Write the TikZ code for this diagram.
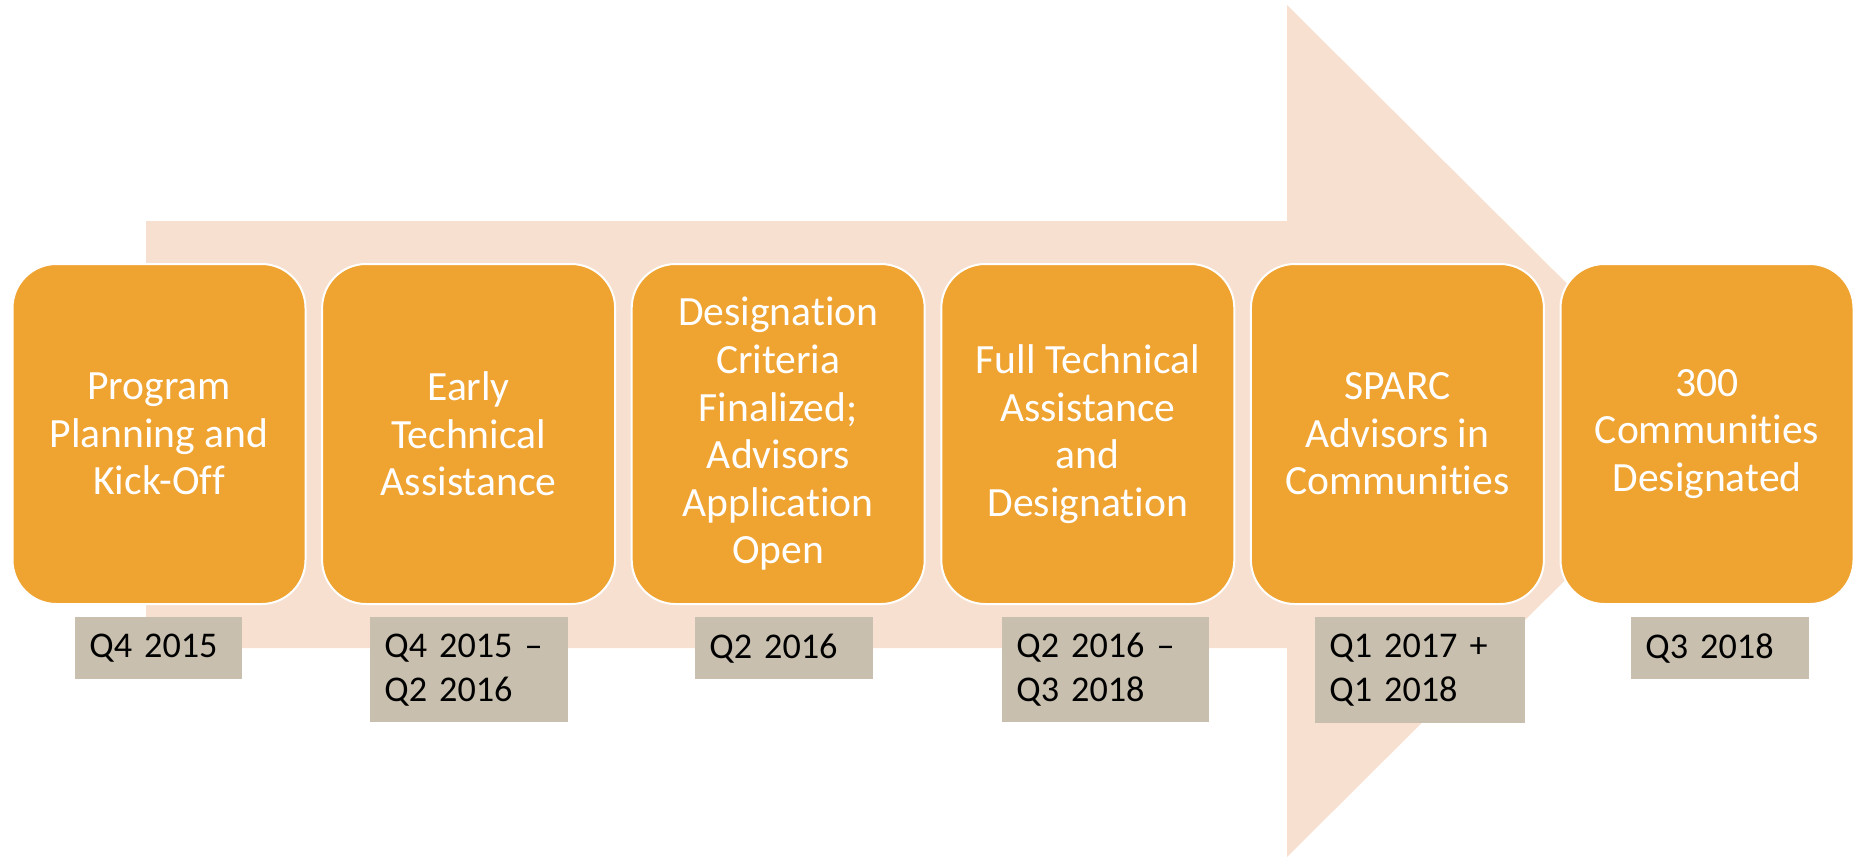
\documentclass[tikz,border=0pt]{standalone}
\usepackage{fontspec}
\setmainfont{Carlito}[Ligatures={TeX,NoCommon}]
\usepackage{tikz}

\definecolor{peach}{HTML}{F7E0CF}
\definecolor{stageorange}{HTML}{EFA331}
\definecolor{datetan}{HTML}{C8BFAE}

\begin{document}
\begin{tikzpicture}[x=0.5pt,y=-0.5pt,
    stage/.style={rectangle,rounded corners=22pt,fill=stageorange,draw=white,line width=1pt,
      minimum width=146.5pt,minimum height=170pt,inner sep=0pt,align=center,text=white,
      font=\fontsize{20.8}{23.8}\selectfont},
    datebox/.style={rectangle,fill=datetan,anchor=north west,inner xsep=7pt,inner ysep=0pt,
      align=left,text=black,font=\fontsize{18.1}{22}\selectfont}]
    \useasboundingbox (0,0) rectangle (1857,859);
    \fill[peach] (146,221) -- (1287,221) -- (1287,5) -- (1715,431) -- (1287,857) -- (1287,648) -- (146,648) -- cycle;
    \foreach \i/\txt in {1/{Program\\Planning and\\Kick-Off},
        2/{Early\\Technical\\Assistance},
        3/{Designation\\Criteria\\Finalized;\\Advisors\\Application\\Open},
        4/{Full Technical\\Assistance\\and\\Designation},
        5/{SPARC\\Advisors in\\Communities},
        6/{300\\Communities\\Designated}}
      \node[stage] (stage\i) at ({159+309.6*(\i-1)},434) {\txt};
    \foreach \i/\x/\w/\h/\txt in {1/75/69.5/31/{Q4 2015},
        2/370/85/52.5/{Q4 2015 –\\Q2 2016},
        3/695/75/31/{Q2 2016},
        4/1002/89.5/52.5/{Q2 2016 –\\Q3 2018},
        5/1315/91/53/{Q1 2017 +\\Q1 2018},
        6/1631/75/31/{Q3 2018}}
      \node[datebox,text width=\w pt,minimum height=\h pt] (date\i) at (\x,617) {\txt};
\end{tikzpicture}
\end{document}
